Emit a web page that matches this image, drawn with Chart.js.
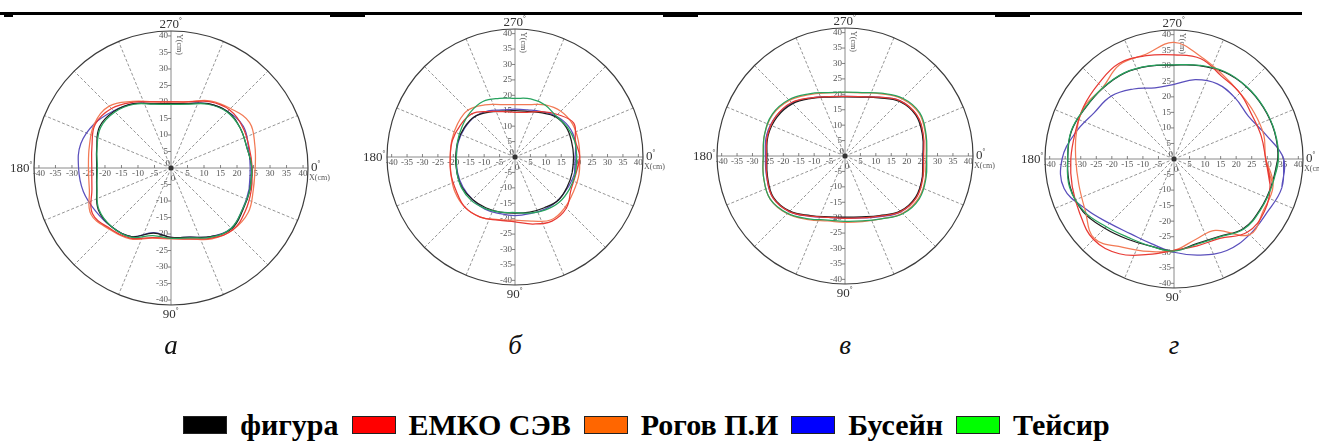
<!DOCTYPE html>
<html>
<head>
<meta charset="utf-8">
<script src="https://cdn.jsdelivr.net/npm/chart.js@4.4.1/dist/chart.umd.min.js"></script>
<style>
  html, body { margin: 0; padding: 0; background: #fff; }
  body { width: 1319px; height: 445px; position: relative; overflow: hidden;
         font-family: "Liberation Serif", "Times New Roman", serif; }
  .rule { position: absolute; background: #000; }
  canvas.panel { position: absolute; }
  .sub { position: absolute; top: 330px; font-style: italic; font-size: 27px; color: #111;
         transform: translateX(-50%); }
  #legend { position: absolute; left: 0; width: 1306px; top: 410px; display: flex;
            justify-content: center; align-items: center; font-weight: bold; font-size: 30px; color: #000; }
  .sw { width: 44px; height: 18px; border: 1px solid #222; box-sizing: border-box; margin-right: 13px; }
  .lt { margin-right: 13px; line-height: 30px; white-space: nowrap; }
</style>
</head>
<body>
<div class="rule" style="left:0;top:12px;width:1302px;height:3px"></div>
<div class="rule" style="left:4px;top:13px;width:9px;height:4px"></div>
<div class="rule" style="left:330px;top:13px;width:35px;height:4px"></div>
<div class="rule" style="left:663px;top:13px;width:35px;height:4px"></div>
<div class="rule" style="left:995px;top:13px;width:35px;height:4px"></div>
<div id="legend"></div>
<script>
// Polar angles of the contour samples, degrees (0 = +X, 90 = down, 180 = -X, 270 = up)
const anglesDeg = [0, 15, 30, 45, 60, 75, 90, 105, 120, 135, 150, 165,
                   180, 195, 210, 225, 240, 255, 270, 285, 300, 315, 330, 345];

// Axis tick values along X and Y (cm)
const axisTicks = [-40, -35, -30, -25, -20, -15, -10, -5, 0, 5, 10, 15, 20, 25, 30, 35, 40];
const angleMarks = ['0', '90', '180', '270'];
const outerRadius = 41.5;

const seriesNames = ['фигура', 'ЕМКО СЭВ', 'Рогов П.И', 'Бусейн', 'Тейсир'];
const panelLetters = ['а', 'б', 'в', 'г'];

// Panel а — contour radius (cm) at each angle
const figA    = [24.5, 24.8, 25.2, 26, 24, 21.7, 21, 20.4, 24, 25.3, 25.4, 23.3, 22.5, 23.3, 25, 24.3, 22.5, 20.2, 19.5, 20.2, 22.5, 24.2, 24.2, 23.8];
const emkoA   = [24.6, 25.2, 26, 26.5, 24.5, 22.2, 21.3, 21.8, 24.5, 26, 27.5, 24.8, 24, 24.8, 26.5, 25.5, 23, 20.7, 20, 20.7, 23.2, 25, 25, 24.5];
const rogovA  = [25.5, 25.8, 27, 26.5, 24.8, 22.3, 21.5, 22, 24.8, 26.3, 28, 25.6, 25, 25.6, 26.8, 26.5, 23.3, 20.8, 20, 20.8, 23.5, 25.5, 27.5, 26.3];
const buseinA = [24, 24.5, 25, 25.8, 24, 21.7, 21, 20.3, 24, 25.3, 26.3, 27.5, 28, 28.3, 26.8, 24.5, 22.5, 20.2, 19.5, 20.2, 22.5, 24.2, 25.3, 24.3];
const teisirA = [24.5, 24.8, 25, 25.8, 24.2, 21.9, 21.3, 21.2, 24.2, 25.3, 25.2, 23.2, 22.3, 23.2, 24.6, 24, 22.3, 20, 19.3, 20, 22.3, 24, 24.2, 23.8];

// Panel б
const figB    = [19, 19.2, 19.5, 19.8, 19, 18.5, 18.2, 18.5, 19, 19.5, 19.8, 19.5, 19.2, 19.2, 19, 18.5, 16.8, 15.4, 15, 15.3, 16.6, 18.5, 19.2, 19];
const emkoB   = [21, 20.5, 21, 23.5, 24, 22.5, 21, 21.2, 22.5, 23, 22, 21.5, 21, 21, 20.5, 19.8, 17, 15.2, 14.5, 15, 17, 19.5, 22, 20.3];
const rogovB  = [21, 21.5, 22, 23, 23.5, 21.5, 20.5, 21, 22.5, 23, 22.5, 21.5, 21, 21.2, 21.5, 21.5, 19.5, 17.6, 17, 17.6, 19.5, 21, 21.5, 21.2];
const buseinB = [19.5, 20, 19.8, 19.8, 19.5, 19, 19, 19, 19.5, 19.5, 19.5, 19.3, 19, 19, 18.8, 18.5, 17.3, 15.8, 15.5, 15.8, 17, 18.8, 20, 20.2];
const teisirB = [20, 20.3, 20.5, 20.5, 19.8, 18.8, 18, 18.5, 19.3, 20, 20, 19.5, 19, 19.3, 19.8, 20.5, 20.8, 19.7, 19, 19.5, 19.5, 18.8, 19.5, 20];

// Panel в
const figC    = [25.3, 26, 26.5, 25.3, 22.3, 20.4, 19.8, 20.4, 22.3, 25.3, 26.8, 26, 25.3, 25.8, 25.4, 24, 21.6, 19.8, 19.2, 19.8, 21.8, 25, 26.5, 26];
const emkoC   = [25.5, 26.2, 26.8, 25.5, 22.5, 20.8, 20.2, 20.6, 22.5, 25.5, 27, 26.2, 25.5, 26, 25.8, 24.5, 21.8, 19.9, 19.3, 19.9, 22, 25.3, 26.8, 26.3];
const rogovC  = [26.3, 27, 27.5, 26.3, 23.5, 22, 21.5, 21.8, 23.8, 26.5, 28, 27.3, 26.5, 27, 27, 25.5, 23, 21.2, 20.6, 21.2, 23.3, 26.2, 27.7, 27];
const buseinC = [25.3, 26, 26.7, 25.6, 22.7, 20.8, 20.2, 20.6, 22.6, 25.5, 27, 26.3, 25.8, 26.3, 25.8, 24.3, 21.8, 19.9, 19.3, 19.9, 22, 25.3, 26.7, 26.2];
const teisirC = [26.5, 27.2, 27.8, 26.5, 23.5, 21.8, 21.2, 21.5, 23.5, 26.3, 28, 27.3, 26.5, 27, 27.2, 25.8, 23.3, 21.3, 20.7, 21.3, 23.5, 26.5, 28, 27.2];

// Panel г
const figD    = [33.4, 32.5, 32.1, 31.6, 28.8, 28.2, 29.5, 29, 29.8, 31.5, 33.8, 34.6, 34.2, 34.2, 32.9, 32.3, 31.9, 30.9, 30.2, 31.1, 32.3, 32.9, 33.2, 33.5];
const emkoD   = [29.5, 32, 33.6, 33.3, 29.5, 28.9, 29.4, 31.8, 35.2, 36.6, 35, 33.9, 33.2, 32.9, 33.6, 34.3, 35.5, 34.4, 33.5, 33.4, 30.7, 30, 28.8, 29];
const rogovD  = [29.5, 33, 33.2, 34.4, 26.5, 26.8, 29.4, 30.8, 32.8, 36.2, 33, 31.7, 31.6, 32.5, 33.4, 32.5, 35, 34.9, 37.5, 34, 31.3, 30, 29.8, 29.9];
const buseinD = [35.3, 35.9, 34.5, 34.4, 34, 32, 30, 28.2, 27.8, 29.3, 32.5, 36.6, 36, 32.8, 29.7, 28.6, 26, 23.7, 24, 26.4, 27.9, 27.8, 27.6, 30.5];
const teisirD = [33.6, 32.7, 32.3, 31.8, 29, 28.4, 29.6, 29, 29.2, 30.8, 33.5, 34.8, 34.2, 34.3, 33, 32.4, 32, 31, 30.3, 31.2, 32.5, 33, 33.3, 33.6];

const panelSeries = [
  [figA, emkoA, rogovA, buseinA, teisirA],
  [figB, emkoB, rogovB, buseinB, teisirB],
  [figC, emkoC, rogovC, buseinC, teisirC],
  [figD, emkoD, rogovD, buseinD, teisirD]
];

// Styling
const swatchColors = ['#000000', '#ff0000', '#ff6600', '#0000ff', '#00ff00'];
const lineColors   = ['#1e1e1e', '#e83a34', '#f27a55', '#5a4fbc', '#27a35e'];
const drawOrder    = [4, 2, 3, 5, 1];   // lower value is painted on top

// Layout of the four polar panels (centre and outer-circle radius, px)
const panelBoxes = [
  { cx: 171, cy: 168, r: 137 },
  { cx: 515, cy: 157, r: 128 },
  { cx: 845, cy: 156, r: 128 },
  { cx: 1174, cy: 159, r: 129 }
];
const PAD = 30;

function toXY(radii) {
  const pts = anglesDeg.map((a, i) => {
    const t = a * Math.PI / 180;
    return { x: radii[i] * Math.cos(t), y: -radii[i] * Math.sin(t) };
  });
  pts.push(pts[0], pts[1]);   // close the contour
  return pts;
}

function degLabel(ctx, text, x, y, align, size) {
  ctx.font = size + 'px "Liberation Serif"';
  const w = ctx.measureText(text).width;
  const ds = Math.round(size * 0.55);
  let x0 = align === 'right' ? x - w - ds * 0.5 : align === 'center' ? x - (w + ds * 0.5) / 2 : x;
  ctx.textAlign = 'left';
  ctx.textBaseline = 'alphabetic';
  ctx.fillText(text, x0, y);
  ctx.font = ds + 'px "Liberation Serif"';
  ctx.fillText('°', x0 + w, y - size * 0.45);
}

const polarFrame = {
  id: 'polarFrame',
  beforeDatasetsDraw(chart) {
    const { ctx, scales: { x, y } } = chart;
    const cx = x.getPixelForValue(0), cy = y.getPixelForValue(0);
    const R = x.getPixelForValue(outerRadius) - cx;
    ctx.save();
    // dashed spokes every 22.5°
    ctx.strokeStyle = '#7a7a7a';
    ctx.lineWidth = 0.8;
    ctx.setLineDash([3, 2]);
    for (let k = 0; k < 16; k++) {
      if (k % 4 === 0) continue;
      const a = k * 22.5 * Math.PI / 180;
      ctx.beginPath();
      ctx.moveTo(cx, cy);
      ctx.lineTo(cx + R * Math.cos(a), cy + R * Math.sin(a));
      ctx.stroke();
    }
    ctx.setLineDash([]);
    // axes
    ctx.strokeStyle = '#8a8a8a';
    ctx.lineWidth = 1;
    ctx.beginPath();
    ctx.moveTo(cx - R, cy); ctx.lineTo(cx + R, cy);
    ctx.moveTo(cx, cy - R); ctx.lineTo(cx, cy + R);
    ctx.stroke();
    // outer circle
    ctx.strokeStyle = '#3c3c3c';
    ctx.lineWidth = 1.2;
    ctx.beginPath();
    ctx.arc(cx, cy, R, 0, Math.PI * 2);
    ctx.stroke();
    // ticks and tick labels
    ctx.strokeStyle = '#666';
    ctx.lineWidth = 0.8;
    ctx.fillStyle = '#555';
    ctx.font = '9px "Liberation Serif"';
    axisTicks.forEach(v => {
      if (v === 0) return;
      const px = x.getPixelForValue(v);
      ctx.beginPath(); ctx.moveTo(px, cy - 3); ctx.lineTo(px, cy); ctx.stroke();
      ctx.textAlign = 'center'; ctx.textBaseline = 'top';
      ctx.fillText(String(v), px, cy + 1);
      const py = y.getPixelForValue(v);
      ctx.beginPath(); ctx.moveTo(cx - 3, py); ctx.lineTo(cx, py); ctx.stroke();
      ctx.textAlign = 'right'; ctx.textBaseline = 'middle';
      ctx.fillText(String(v), cx - 3, py);
    });
    ctx.textAlign = 'right'; ctx.textBaseline = 'bottom';
    ctx.fillText('0', cx - 1, cy);
    ctx.textAlign = 'center'; ctx.textBaseline = 'top';
    ctx.fillText('0', cx + 2, cy + 6);
    // axis names
    ctx.font = '8px "Liberation Serif"';
    ctx.textAlign = 'left'; ctx.textBaseline = 'top';
    ctx.fillText('X(cm)', cx + R + 1, cy + 6);
    ctx.save();
    ctx.translate(cx + 3, cy - R + 3);
    ctx.rotate(Math.PI / 2);
    ctx.textBaseline = 'bottom';
    ctx.fillText('Y(cm)', 0, -1);
    ctx.restore();
    // angle marks
    ctx.fillStyle = '#333';
    degLabel(ctx, angleMarks[3], cx, cy - R - 3, 'center', 13);
    degLabel(ctx, angleMarks[1], cx, cy + R + 13, 'center', 13);
    degLabel(ctx, angleMarks[2], cx - R - 1, cy + 4, 'right', 13);
    degLabel(ctx, angleMarks[0], cx + R + 3, cy + 3, 'left', 13);
    ctx.restore();
  },
  afterDatasetsDraw(chart) {
    const { ctx, scales: { x, y } } = chart;
    ctx.save();
    ctx.fillStyle = '#333';
    ctx.beginPath();
    ctx.arc(x.getPixelForValue(0), y.getPixelForValue(0), 2.5, 0, Math.PI * 2);
    ctx.fill();
    ctx.restore();
  }
};

panelBoxes.forEach((box, p) => {
  const cv = document.createElement('canvas');
  cv.className = 'panel';
  const size = 2 * box.r + 2 * PAD;
  cv.width = size; cv.height = size;
  cv.style.left = (box.cx - box.r - PAD) + 'px';
  cv.style.top = (box.cy - box.r - PAD) + 'px';
  cv.style.width = size + 'px'; cv.style.height = size + 'px';
  document.body.appendChild(cv);

  const datasets = panelSeries[p].map((radii, s) => ({
    label: seriesNames[s],
    data: toXY(radii),
    showLine: true,
    borderColor: lineColors[s],
    borderWidth: 1.25,
    pointRadius: 0,
    tension: 0.4,
    fill: false,
    order: drawOrder[s]
  }));

  new Chart(cv, {
    type: 'scatter',
    data: { datasets },
    options: {
      responsive: false,
      animation: false,
      devicePixelRatio: 1,
      layout: { padding: PAD },
      scales: {
        x: { type: 'linear', min: -outerRadius, max: outerRadius, display: false },
        y: { type: 'linear', min: -outerRadius, max: outerRadius, display: false }
      },
      plugins: { legend: { display: false }, tooltip: { enabled: false } },
      elements: { line: { capBezierPoints: false } }
    },
    plugins: [polarFrame]
  });

  const lab = document.createElement('div');
  lab.className = 'sub';
  lab.style.left = box.cx + 'px';
  lab.textContent = panelLetters[p];
  document.body.appendChild(lab);
});

// Shared legend
const legend = document.getElementById('legend');
seriesNames.forEach((name, i) => {
  const sw = document.createElement('div');
  sw.className = 'sw';
  sw.style.background = swatchColors[i];
  legend.appendChild(sw);
  const t = document.createElement('span');
  t.className = 'lt';
  t.textContent = name;
  legend.appendChild(t);
});
</script>
</body>
</html>
